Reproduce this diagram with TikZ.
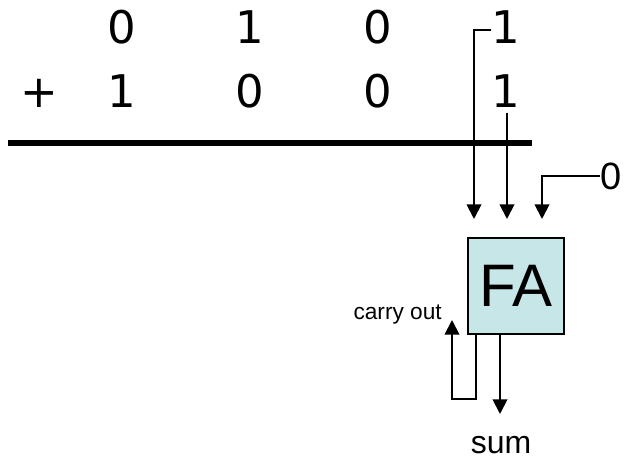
\documentclass[tikz,border=0pt]{standalone}
\usepackage{fontspec}
\setmainfont{Liberation Sans}
\newfontfamily\digitfont{DejaVu Sans}
\usepackage{tikz}
\usetikzlibrary{arrows.meta,positioning,calc}
\definecolor{fafill}{HTML}{C6E6E8}

\begin{document}
\begin{tikzpicture}[
    x=0.75pt,
    y=-0.75pt,
    digit/.style={inner sep=0pt, font=\digitfont\fontsize{33.75}{40}\selectfont},
    wire/.style={line width=1.4pt, -{Triangle[length=11pt,width=11pt]}},
    fabox/.style={rectangle, draw=black, line width=1.5pt, fill=fafill, minimum size=72pt, inner sep=0pt, font=\fontsize{45}{50}\selectfont},
    lab/.style={inner sep=0pt}
  ]
  \useasboundingbox (0,0) rectangle (626,460);

  % operand rows, most significant column on the left
  \foreach \n/\x/\a/\b in {3/122/0/1, 2/250/1/0, 1/378/0/0, 0/506/1/1} {
    \node[digit] (a\n) at (\x,27) {\a};
    \node[digit] (b\n) at (\x,91) {\b};
  }
  \node[digit] (plus) at (39,93) {+};
  \draw[line width=4.5pt] (8,143) -- (532,143);

  % full adder for the lowest column
  \node[fabox] (fa) at (516,286) {FA};
  \node[lab, font=\fontsize{28.5}{32}\selectfont] (cin) at (611,176) {0};

  \coordinate (inA) at ($(fa.north)+(-42,-18)$);
  \coordinate (inB) at ($(fa.north)+(-9,-18)$);
  \coordinate (inC) at ($(fa.north)+(26,-18)$);
  \coordinate (cout) at ($(fa.south)+(-64,-15)$);
  \coordinate (loop) at ($(fa.south)+(-64,64)$);
  \coordinate (sout) at ($(fa.south)+(-16,79)$);

  \draw[wire] ([yshift=-2pt]a0.west) -| (inA);
  \draw[wire] ([yshift=-3.75pt]inB |- b0.south) -- (inB);
  \draw[wire] (cin.west) -| (inC);
  \draw[wire] ($(fa.south)+(-40,0)$) |- (loop) -- (cout);
  \draw[wire] ($(fa.south)+(-16,0)$) -- (sout);

  \node[lab, anchor=base east, font=\fontsize{17}{20}\selectfont] (coutlbl) at ($(cout)+(-10,0)$) {carry out};
  \node[lab, anchor=base, font=\fontsize{24}{28}\selectfont] (sumlbl) at ($(sout)+(1,39)$) {sum};
\end{tikzpicture}
\end{document}
